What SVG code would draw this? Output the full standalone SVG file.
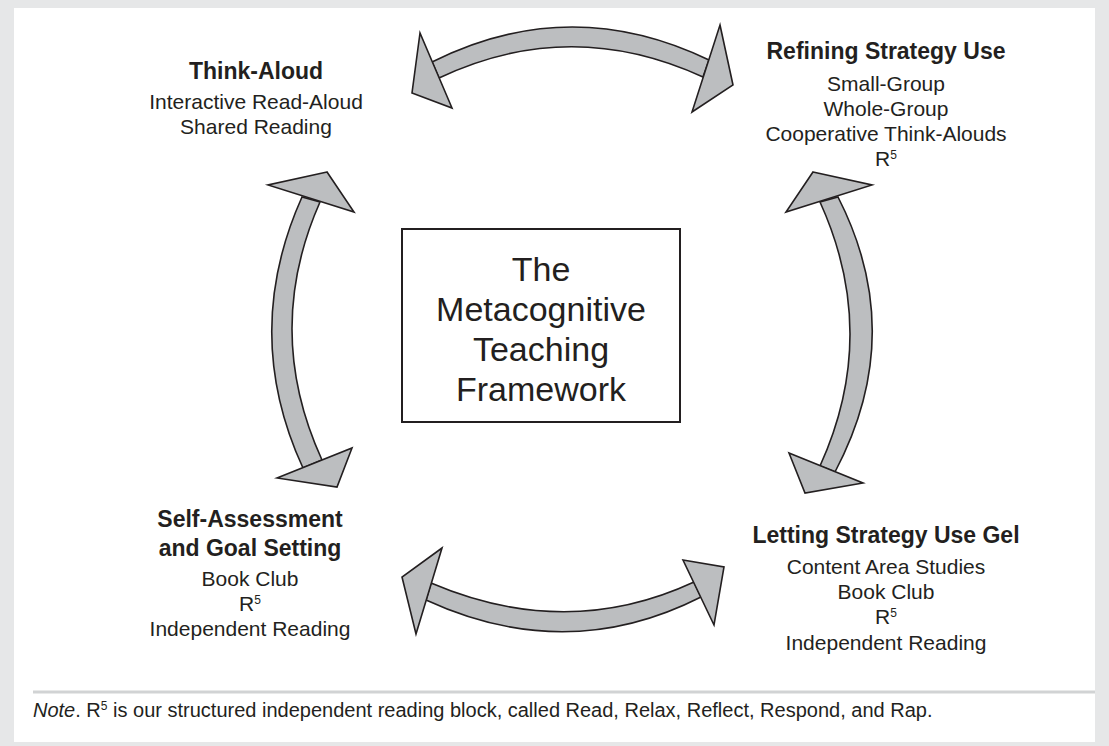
<svg xmlns="http://www.w3.org/2000/svg" width="1109" height="746" viewBox="0 0 1109 746">
<style>
.t{font-family:"Liberation Sans",Arial,sans-serif;fill:#231f20;text-anchor:middle}
.h{font-size:23px;font-weight:700}
.r{font-size:21px}
.c{font-size:34px}
.ar{fill:#bcbec0;stroke:#231f20;stroke-width:1.6;stroke-linejoin:miter}
</style>
<rect x="0" y="0" width="1109" height="746" fill="#e6e7e8"/>
<rect x="14" y="8" width="1081" height="734" fill="#ffffff"/>
<line x1="33" y1="692" x2="1095" y2="692" stroke="#d1d3d4" stroke-width="3"/>

<g id="connectors">
  <g id="arrow-top">
    <path class="ar" d="M432,62 Q570,-7 709,60 L703,77 Q570,16 439,78 Z"/>
    <polygon class="ar" points="420,33 412,93 452,108"/>
    <polygon class="ar" points="720,25 733,85 692,112"/>
  </g>
  <g id="arrow-bottom">
    <path class="ar" d="M431,583 Q567,641 694,582 L701,597 Q567,665 426,600 Z"/>
    <polygon class="ar" points="442,548 402,577 416,634"/>
    <polygon class="ar" points="683,560 724,567 714,625"/>
  </g>
  <g id="arrow-left">
    <path class="ar" d="M302,197 Q241,333 303,468 L322,460 Q263,331 320,202 Z"/>
    <polygon class="ar" points="327,172 268,185 354,212"/>
    <polygon class="ar" points="277,478 352,448 337,487"/>
  </g>
  <g id="arrow-right">
    <path class="ar" d="M838,197 Q908,334 835,472 L820,466 Q880,334 820,202 Z"/>
    <polygon class="ar" points="813,172 872,185 786,212"/>
    <polygon class="ar" points="789,453 863,483 805,493"/>
  </g>
</g>

<g id="node-think-aloud">
  <text class="t h" x="256" y="79">Think-Aloud</text>
  <text class="t r" x="256" y="109">Interactive Read-Aloud</text>
  <text class="t r" x="256" y="134">Shared Reading</text>
</g>

<g id="node-refining">
  <text class="t h" x="886" y="59">Refining Strategy Use</text>
  <text class="t r" x="886" y="91">Small-Group</text>
  <text class="t r" x="886" y="116">Whole-Group</text>
  <text class="t r" x="886" y="141">Cooperative Think-Alouds</text>
  <text class="t r" x="886" y="166">R<tspan font-size="12" dy="-7">5</tspan></text>
</g>

<g id="node-center">
  <rect x="402" y="229" width="278" height="193" fill="#ffffff" stroke="#231f20" stroke-width="2"/>
  <text class="t c" x="541" y="281">The</text>
  <text class="t c" x="541" y="321">Metacognitive</text>
  <text class="t c" x="541" y="361">Teaching</text>
  <text class="t c" x="541" y="401">Framework</text>
</g>

<g id="node-self-assessment">
  <text class="t h" x="250" y="527">Self-Assessment</text>
  <text class="t h" x="250" y="556">and Goal Setting</text>
  <text class="t r" x="250" y="586">Book Club</text>
  <text class="t r" x="250" y="611">R<tspan font-size="12" dy="-7">5</tspan></text>
  <text class="t r" x="250" y="636">Independent Reading</text>
</g>

<g id="node-letting">
  <text class="t h" x="886" y="543">Letting Strategy Use Gel</text>
  <text class="t r" x="886" y="574">Content Area Studies</text>
  <text class="t r" x="886" y="599">Book Club</text>
  <text class="t r" x="886" y="624">R<tspan font-size="12" dy="-7">5</tspan></text>
  <text class="t r" x="886" y="650">Independent Reading</text>
</g>

<g id="note">
  <text x="33" y="717" font-family="Liberation Sans, Arial, sans-serif" font-size="20" fill="#231f20"><tspan font-style="italic">Note</tspan>. R<tspan font-size="12" dy="-7">5</tspan><tspan dy="7"> is our structured independent reading block, called Read, Relax, Reflect, Respond, and Rap.</tspan></text>
</g>
</svg>
